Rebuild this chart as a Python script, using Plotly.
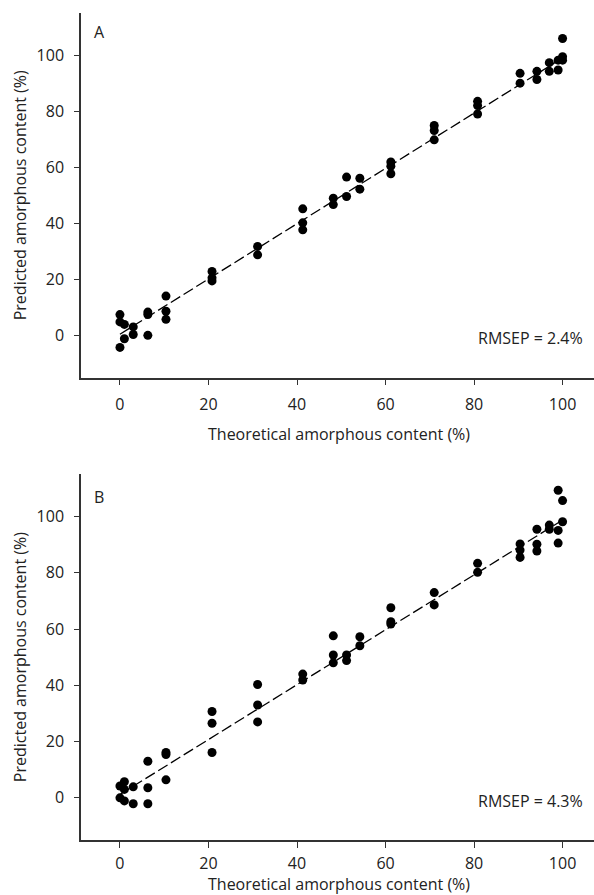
import plotly.graph_objects as go

# ---------------- data ----------------
# Panel A
a_x = [0, 0, 0, 1, 1, 3, 3, 6.3, 6.3, 6.3, 10.4, 10.4, 10.4,
       20.8, 20.8, 20.8, 31.1, 31.1, 41.3, 41.3, 41.3,
       48.2, 48.2, 51.2, 51.2, 54.2, 54.2, 61.2, 61.2, 61.2,
       71, 71, 71, 80.8, 80.8, 80.8, 90.4, 90.4, 94.2, 94.2,
       97, 97, 99, 99, 100, 100, 100]
a_y = [7.5, 4.9, -4.2, 4.0, -1.1, 3.1, 0.4, 8.4, 7.5, 0.1, 14.1, 8.7, 5.8,
       22.9, 20.6, 19.5, 31.8, 28.8, 45.2, 40.2, 37.7,
       49.0, 46.7, 56.5, 49.6, 56.1, 52.2, 61.9, 60.4, 57.7,
       74.9, 73.1, 69.8, 83.5, 82.0, 79.0, 93.5, 90.0, 94.2, 91.3,
       97.3, 94.2, 98.2, 94.7, 105.9, 99.4, 98.2]
a_fit_x = [0, 100]
a_fit_y = [0.5, 99.0]

# Panel B
b_x = [0, 0, 1, 1, 1, 3, 3, 6.3, 6.3, 6.3, 10.4, 10.4, 10.4,
       20.8, 20.8, 20.8, 31.1, 31.1, 31.1, 41.3, 41.3,
       48.2, 48.2, 48.2, 51.2, 51.2, 54.2, 54.2, 61.2, 61.2, 61.2,
       71, 71, 80.8, 80.8, 90.4, 90.4, 90.4, 94.2, 94.2, 94.2,
       97, 97, 99, 99, 99, 100, 100]
b_y = [4.2, 0.0, 5.7, 3.0, -1.1, 3.9, -2.1, 13.0, 3.6, -2.1, 16.1, 15.4, 6.4,
       30.7, 26.5, 16.1, 40.3, 33.0, 27.0, 44.0, 41.9,
       57.6, 50.8, 48.0, 50.8, 48.8, 57.3, 54.1, 67.6, 62.6, 61.8,
       73.0, 68.6, 83.4, 80.2, 90.3, 88.1, 85.5, 95.5, 90.2, 87.8,
       97.0, 95.5, 109.4, 95.1, 90.6, 105.7, 98.2]
b_fit_x = [0, 100]
b_fit_y = [1.2, 98.8]

x_ticks = [0, 20, 40, 60, 80, 100]
y_ticks = [0, 20, 40, 60, 80, 100]
x_title = "Theoretical amorphous content (%)"
y_title = "Predicted amorphous content (%)"
panel_labels = ["A", "B"]
rmsep_labels = ["RMSEP = 2.4%", "RMSEP = 4.3%"]

# ---------------- figure ----------------
FONT = "Open Sans"
FS = 16
fig = go.Figure()

for i, (xs, ys, fx, fy) in enumerate([(a_x, a_y, a_fit_x, a_fit_y),
                                       (b_x, b_y, b_fit_x, b_fit_y)]):
    xa = "x" if i == 0 else "x2"
    ya = "y" if i == 0 else "y2"
    fig.add_trace(go.Scatter(x=fx, y=fy, mode="lines", xaxis=xa, yaxis=ya,
                             line=dict(color="black", width=1.3, dash="11px,4px"),
                             showlegend=False, hoverinfo="skip"))
    fig.add_trace(go.Scatter(x=xs, y=ys, mode="markers", xaxis=xa, yaxis=ya,
                             marker=dict(color="black", size=9, line=dict(width=0)),
                             showlegend=False))

axis_common = dict(showgrid=False, zeroline=False, showline=True,
                   linecolor="#333333", linewidth=1.5, ticks="outside",
                   tickcolor="#333333", tickwidth=1.2,
                   tickfont=dict(family=FONT, size=FS, color="#222222"))

xr = [-8.8, 107.1]
yr = [-15, 115]
domA = [0.559, 1.0]
domB = [0.0, 0.442]

fig.update_layout(
    width=594, height=895,
    margin=dict(l=81, r=0, t=13, b=55),
    paper_bgcolor="white", plot_bgcolor="white",
    xaxis=dict(domain=[0, 1], range=xr, tickvals=x_ticks, anchor="y",
               ticklen=6, ticklabelstandoff=5, **axis_common),
    yaxis=dict(domain=domA, range=yr, tickvals=y_ticks, anchor="x",
               ticklen=5, ticklabelstandoff=7, **axis_common),
    xaxis2=dict(domain=[0, 1], range=xr, tickvals=x_ticks, anchor="y2",
                ticklen=6, ticklabelstandoff=2, **axis_common),
    yaxis2=dict(domain=domB, range=yr, tickvals=y_ticks, anchor="x2",
                ticklen=5, ticklabelstandoff=7, **axis_common),
)

ann_font = dict(family=FONT, size=FS, color="#222222")
annotations = []
# panel labels
for lab, yref, yv in [(panel_labels[0], "y domain", 0.947), (panel_labels[1], "y2 domain", 0.937)]:
    annotations.append(dict(text=lab, xref="paper", yref=yref, x=0.021, y=yv,
                            xanchor="left", yanchor="middle", showarrow=False, font=ann_font))
# RMSEP labels
for lab, yref in [(rmsep_labels[0], "y domain"), (rmsep_labels[1], "y2 domain")]:
    annotations.append(dict(text=lab, xref="paper", yref=yref, x=0.982, y=0.108,
                            xanchor="right", yanchor="middle", showarrow=False, font=ann_font))
# x titles
for yv in [0.491, -0.0532]:
    annotations.append(dict(text=x_title, xref="paper", yref="paper", x=0.503, y=yv,
                            xanchor="center", yanchor="middle", showarrow=False, font=ann_font,
                            borderpad=0))
# y titles
for yv in [(domA[0] + domA[1]) / 2, (domB[0] + domB[1]) / 2]:
    annotations.append(dict(text=y_title, xref="paper", yref="paper", x=-0.119, y=yv,
                            xanchor="center", yanchor="middle", textangle=-90,
                            showarrow=False, font=ann_font))
fig.update_layout(annotations=annotations)

fig.write_html("out.html")
